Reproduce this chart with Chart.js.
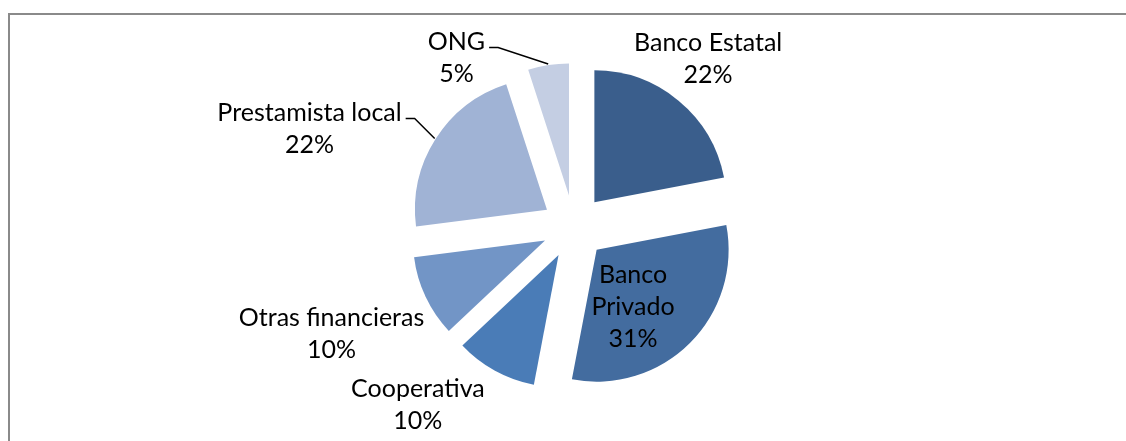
<!DOCTYPE html>
<html>
<head>
<meta charset="utf-8">
<script src="https://cdn.jsdelivr.net/npm/chart.js@4.4.1/dist/chart.umd.min.js"></script>
<style>
    html, body { margin: 0; padding: 0; background: #fff; }
    #wrap { position: relative; width: 1126px; height: 441px; overflow: hidden; }
    #frame { position: absolute; left: 8px; top: 13px; right: -10px; bottom: -10px;
             border-top: 2px solid #8a8a8a; border-left: 2px solid #8a8a8a; }
    canvas { position: absolute; left: 0; top: 0; }
</style>
</head>
<body>
<div id="wrap">
    <div id="frame"></div>
    <canvas id="pieChart" width="1126" height="441"></canvas>
</div>
<script>
// Data
const categories = ["Banco Estatal", "Banco Privado", "Cooperativa", "Otras financieras", "Prestamista local", "ONG"];
const values = [22, 31, 10, 10, 22, 5];
const sliceColors = ["#3a5e8c", "#436c9f", "#4a7cb7", "#7295c6", "#a0b3d5", "#c4cee3"];

// Label text lines (Banco Privado sits inside its slice, so it wraps)
const labelLines = [["Banco Estatal"], ["Banco", "Privado"], ["Cooperativa"], ["Otras financieras"], ["Prestamista local"], ["ONG"]];

// Label placement: distance from pie centre and angle turn (deg) from the slice bisector
const labelLayout = [
    { dist: 215, turn: -1, leader: false },
    { dist: 99, turn: 8.4, leader: false },
    { dist: 237, turn: 12.4, leader: false },
    { dist: 265, turn: 1.4, leader: false },
    { dist: 282, turn: -12.1, leader: true },
    { dist: 206, turn: -25.8, leader: true }
];

const EXPLODE = 32;
const FONT = "25px Lato";
const LINE_H = 32;

const total = values.reduce((a, b) => a + b, 0);
const pct = (v) => Math.round(v / total * 100) + "%";

// Move every slice out along its bisector (Excel-style explosion, same radius)
const explodePlugin = {
    id: "explode",
    afterDatasetUpdate(chart, args) {
        args.meta.data.forEach((arc) => {
            const mid = (arc.startAngle + arc.endAngle) / 2;
            arc.x += Math.cos(mid) * EXPLODE;
            arc.y += Math.sin(mid) * EXPLODE;
        });
    }
};

// Category + percent labels, with leader lines where needed
const labelPlugin = {
    id: "sliceLabels",
    afterDatasetsDraw(chart) {
        const ctx = chart.ctx;
        const meta = chart.getDatasetMeta(0);
        const cx = (chart.chartArea.left + chart.chartArea.right) / 2;
        const cy = (chart.chartArea.top + chart.chartArea.bottom) / 2;
        ctx.save();
        ctx.font = FONT;
        ctx.fillStyle = "#000";
        ctx.strokeStyle = "#000";
        ctx.lineWidth = 1.5;
        ctx.textAlign = "center";
        ctx.textBaseline = "middle";
        meta.data.forEach((arc, i) => {
            const lay = labelLayout[i];
            const mid = (arc.startAngle + arc.endAngle) / 2;
            const a = mid + lay.turn * Math.PI / 180;
            const lx = cx + Math.cos(a) * lay.dist;
            const ly = cy + Math.sin(a) * lay.dist;
            const lines = labelLines[i].concat(pct(values[i]));
            const top = ly - (lines.length - 1) * LINE_H / 2;
            lines.forEach((t, k) => ctx.fillText(t, lx, top + k * LINE_H));
            if (lay.leader) {
                const w = ctx.measureText(lines[0]).width;
                const x0 = lx + w / 2 + 4;
                const y0 = Math.round(top + 5) + 0.5;
                const ex = arc.x + Math.cos(mid) * (arc.outerRadius + 1);
                const ey = arc.y + Math.sin(mid) * (arc.outerRadius + 1);
                ctx.beginPath();
                ctx.moveTo(x0, y0);
                ctx.lineTo(x0 + 9, y0);
                ctx.lineTo(ex, ey);
                ctx.stroke();
            }
        });
        ctx.restore();
    }
};

const ctx = document.getElementById("pieChart").getContext("2d");
const pieChart = new Chart(ctx, {
    type: "pie",
    data: {
        labels: categories,
        datasets: [{
            data: values,
            backgroundColor: sliceColors,
            borderWidth: 0
        }]
    },
    options: {
        responsive: false,
        animation: false,
        events: [],
        radius: 132,
        layout: { padding: { left: 22, top: 13, right: 0, bottom: 0 } },
        plugins: {
            legend: { display: false },
            tooltip: { enabled: false }
        }
    },
    plugins: [explodePlugin, labelPlugin]
});
</script>
</body>
</html>
